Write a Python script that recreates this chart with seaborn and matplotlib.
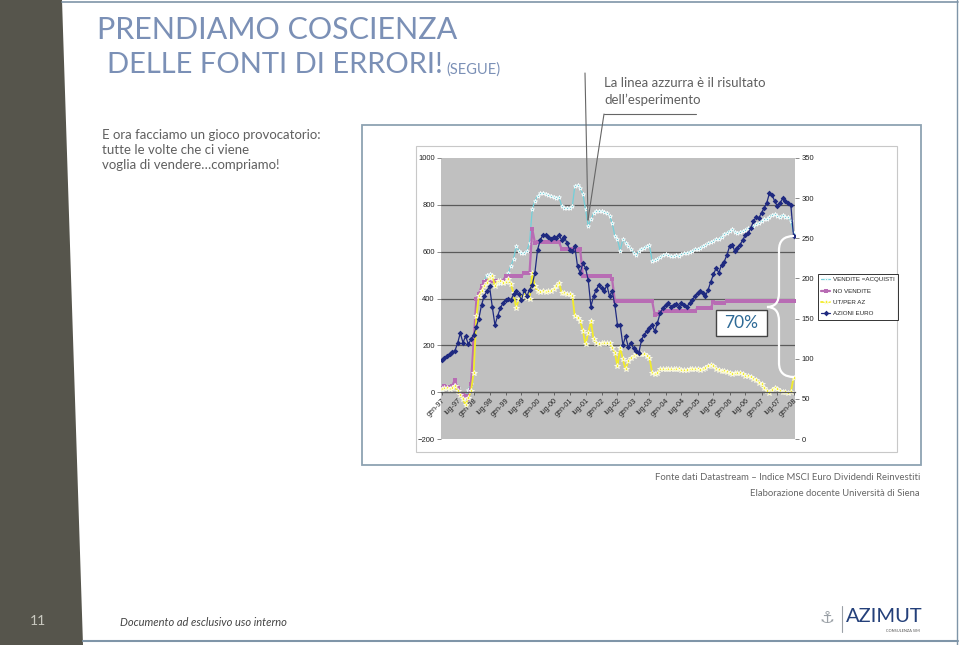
import numpy as np
import pandas as pd
import matplotlib
matplotlib.use('Agg')
import matplotlib.pyplot as plt
from matplotlib.path import Path
from matplotlib.patches import PathPatch, Polygon, Rectangle
import seaborn as sns

# --- DATA (monthly, gen-97 .. gen-08) ---
months = pd.date_range('1997-01-01', periods=133, freq='MS')

# left axis
vendite_acquisti = [
    11, 18, 18, 14, 23, 33, 18, -3, -17, -24, 11, 33,
    83, 396, 418, 446, 475, 499, 503, 489, 468, 465, 468, 475,
    496, 510, 539, 567, 624, 603, 596, 596, 603, 639, 781, 817,
    838, 850, 850, 845, 841, 838, 835, 831, 835, 795, 788, 788,
    788, 795, 881, 884, 874, 845, 781, 710, 738, 764, 774, 774,
    774, 770, 764, 753, 724, 667, 653, 603, 653, 639, 624, 610,
    596, 584, 603, 610, 617, 624, 627, 560, 565, 570, 579, 584,
    589, 586, 582, 582, 584, 582, 589, 593, 596, 599, 603, 610,
    613, 617, 624, 627, 636, 642, 646, 653, 656, 664, 674, 681,
    689, 696, 684, 679, 684, 689, 693, 699, 703, 710, 717, 724,
    731, 738, 741, 750, 756, 760, 753, 750, 756, 750, 746, 731,
    681,
]
no_vendite = [
    18, 26, 23, 23, 26, 54, 18, -6, -10, -17, -28, 33,
    211, 396, 418, 453, 470, 475, 475, 474, 475, 475, 476, 475,
    496, 496, 497, 496, 496, 495, 496, 510, 511, 510, 696, 639,
    642, 641, 642, 642, 641, 642, 643, 642, 642, 612, 610, 610,
    611, 610, 610, 609, 610, 496, 496, 495, 496, 496, 497, 496,
    496, 496, 495, 496, 482, 389, 389, 390, 389, 389, 388, 389,
    389, 390, 389, 389, 388, 389, 389, 389, 328, 332, 342, 346,
    346, 347, 346, 345, 346, 346, 347, 346, 346, 345, 346, 346,
    361, 360, 361, 361, 360, 361, 385, 379, 379, 380, 379, 389,
    389, 390, 389, 389, 388, 389, 389, 390, 389, 389, 389, 388,
    389, 389, 390, 389, 389, 388, 389, 389, 390, 389, 389, 389,
    389,
]
ut_per_az = [
    14, 18, 18, 14, 18, 26, 4, -10, -31, -53, -24, 4,
    83, 325, 411, 432, 453, 468, 489, 496, 453, 475, 475, 468,
    470, 482, 460, 425, 361, 396, 411, 418, 403, 396, 510, 453,
    432, 428, 432, 428, 432, 432, 439, 453, 468, 425, 422, 418,
    418, 411, 325, 318, 304, 261, 204, 254, 304, 225, 211, 204,
    208, 211, 208, 211, 190, 168, 111, 190, 140, 97, 133, 147,
    154, 161, 161, 165, 161, 154, 147, 83, 76, 83, 97, 100,
    100, 100, 97, 97, 97, 97, 94, 94, 94, 97, 97, 100,
    97, 94, 97, 104, 111, 114, 111, 100, 94, 90, 90, 86,
    80, 76, 80, 83, 83, 76, 71, 68, 66, 57, 54, 40,
    33, 19, 4, -3, 11, 19, 14, 4, 0, 0, -3, 0,
    61,
]
# right axis
azioni_euro = [
    98, 101, 104, 106, 108, 110, 119, 132, 120, 128, 118, 124,
    130, 140, 150, 167, 178, 184, 190, 165, 142, 153, 163, 169,
    173, 174, 173, 180, 184, 180, 173, 186, 178, 186, 192, 207,
    236, 248, 254, 254, 251, 249, 251, 250, 254, 248, 252, 244,
    236, 234, 240, 215, 207, 219, 213, 198, 165, 178, 186, 192,
    188, 184, 192, 178, 184, 167, 142, 142, 117, 128, 115, 119,
    113, 110, 107, 123, 130, 134, 138, 142, 134, 145, 157, 163,
    167, 169, 165, 167, 168, 165, 169, 167, 165, 169, 173, 178,
    182, 184, 182, 178, 186, 196, 205, 213, 207, 217, 221, 229,
    240, 242, 234, 238, 242, 248, 254, 256, 263, 271, 277, 275,
    282, 288, 294, 306, 304, 296, 290, 294, 300, 296, 294, 292,
    253,
]

series_names = ['VENDITE =ACQUISTI', 'NO VENDITE', 'UT/PER AZ', 'AZIONI EURO']
tick_dates = pd.date_range('1997-01-01', '2008-01-01', freq='6MS')
tick_labels = ['gen-97', 'lug-97', 'gen-98', 'lug-98', 'gen-99', 'lug-99',
               'gen-00', 'lug-00', 'gen-01', 'lug-01', 'gen-02', 'lug-02',
               'gen-03', 'lug-03', 'gen-04', 'lug-04', 'gen-05', 'lug-05',
               'gen-06', 'lug-06', 'gen-07', 'lug-07', 'gen-08']
left_ticks = [-200, 0, 200, 400, 600, 800, 1000]
right_ticks = [0, 50, 100, 150, 200, 250, 300, 350]

sns.set_style('white')
plt.rcParams['font.family'] = ['Lato', 'DejaVu Sans']

W, H = 960, 645
fig = plt.figure(figsize=(9.6, 6.45), dpi=100)

# --- slide background (pixel coords) ---
bg = fig.add_axes([0, 0, 1, 1], zorder=0)
bg.set_xlim(0, W)
bg.set_ylim(H, 0)
bg.axis('off')
bg.add_patch(Polygon([(0, 0), (62, 0), (83, H), (0, H)], closed=True,
                     facecolor='#56554c', edgecolor='none'))
bg.plot([62, 958], [1.5, 1.5], color='#7f95a8', lw=1.2)
bg.plot([957, 957], [0, H], color='#7f95a8', lw=1.0)
bg.plot([83, 958], [641, 641], color='#7f95a8', lw=1.5)
bg.add_patch(Rectangle((362, 125), 559, 340, facecolor='white',
                       edgecolor='#8ea2b2', lw=1.3))
bg.add_patch(Rectangle((416, 146), 481, 306, facecolor='white',
                       edgecolor='#c8c8c8', lw=0.8))

title_col = '#7b90b6'
bg.text(97, 30, 'PRENDIAMO COSCIENZA', fontsize=22, color=title_col,
        va='center', ha='left')
bg.text(107, 65, 'DELLE FONTI DI ERRORI!', fontsize=21, color=title_col,
        va='center', ha='left')
bg.text(446, 70, '(SEGUE)', fontsize=10.5, color=title_col, va='center', ha='left')

body = ['E ora facciamo un gioco provocatorio:', 'tutte le volte che ci viene',
        'voglia di vendere\u2026compriamo!']
for i, line in enumerate(body):
    bg.text(102, 135 + i * 15, line, fontsize=9.5, color='#606060', va='center')

bg.text(604, 83, 'La linea azzurra è il risultato', fontsize=9.5, color='#606060', va='center')
bg.text(604, 100, 'dell\u2019esperimento', fontsize=9.5, color='#606060', va='center')

bg.text(920, 477, 'Fonte dati Datastream \u2013 Indice MSCI Euro Dividendi Reinvestiti',
        fontsize=6.8, color='#666666', ha='right', va='center')
bg.text(920, 493, 'Elaborazione docente Università di Siena',
        fontsize=6.8, color='#666666', ha='right', va='center')

bg.text(38, 621, '11', fontsize=10, color='#c9c9c0', ha='center', va='center')
bg.text(120, 622, 'Documento ad esclusivo uso interno', fontsize=8, color='#444444',
        style='italic', va='center')
bg.text(827, 618, '\u2693', fontsize=12, color='#9aa0a6', ha='center', va='center',
        family=['DejaVu Sans'])
bg.plot([842, 842], [606, 632], color='#9aa0a6', lw=0.8)
bg.text(846, 617, 'AZIMUT', fontsize=14.5, color='#24407a', ha='left', va='center')
bg.text(920, 631, 'CONSULENZA SIM', fontsize=2.8, color='#555555', ha='right', va='center')

# --- chart ---
ax = fig.add_axes([441 / W, 1 - 439 / H, 354 / W, 281 / H], zorder=2)
ax.set_facecolor('#c0c0c0')
ax2 = ax.twinx()

sns.lineplot(x=months, y=vendite_acquisti, ax=ax, color='#72d0da', marker='*',
             markersize=3.2, label=series_names[0], legend=False,
             linewidth=0.9, markeredgewidth=0.5)
sns.lineplot(x=months, y=no_vendite, ax=ax, color='#b86cb4', marker='s',
             markersize=2.4, label=series_names[1], legend=False,
             linewidth=1.6, markeredgewidth=0)
sns.lineplot(x=months, y=ut_per_az, ax=ax, color='#f2ec2a', marker='*',
             markersize=4.2, label=series_names[2], legend=False,
             linewidth=1.3, markeredgewidth=0.5)
sns.lineplot(x=months, y=azioni_euro, ax=ax2, color='#1f2a80', marker='D',
             markersize=2.9, label=series_names[3], legend=False,
             linewidth=0.9, markeredgewidth=0)

ax.set_xlim(pd.Timestamp('1996-12-24'), pd.Timestamp('2008-01-18'))
ax.set_ylim(-200, 1000)
ax2.set_ylim(0, 350)
ax.set_yticks(left_ticks)
ax2.set_yticks(right_ticks)
ax.set_xticks(tick_dates)

ax.yaxis.grid(True, color='#5a5a5a', lw=0.9)
gl = ax.get_ygridlines()
gl[0].set_visible(False)
gl[-1].set_visible(False)
ax.set_axisbelow(True)

for s in ['top', 'left', 'right']:
    ax.spines[s].set_visible(False)
    ax2.spines[s].set_visible(False)
ax2.spines['bottom'].set_visible(False)
ax.spines['bottom'].set_position(('data', 0))
ax.spines['bottom'].set_color('#5a5a5a')
ax.spines['bottom'].set_linewidth(0.9)

tick_font = dict(labelsize=5.5, labelcolor='#222222', color='#777777',
                 length=3, width=0.6)
ax.tick_params(axis='y', pad=1.5, **tick_font)
ax2.tick_params(axis='y', pad=1.5, **tick_font)
ax.tick_params(axis='x', direction='out', pad=1, labelsize=5.2, labelcolor='#222222',
               color='#555555', length=2.5, width=0.6, bottom=True)
ax.set_xlabel('')
ax.set_ylabel('')
ax2.set_ylabel('')

handles = ax.get_lines()[:3] + ax2.get_lines()[:1]
leg = fig.legend(handles=handles, labels=series_names, loc='upper left',
                 bbox_to_anchor=(818 / W, 1 - 274 / H), fontsize=4.5,
                 frameon=True, fancybox=False, edgecolor='black',
                 handlelength=1.4, borderpad=0.5, labelspacing=0.95,
                 handletextpad=0.5, borderaxespad=0)
leg.get_frame().set_linewidth(0.7)
for t in leg.get_texts():
    t.set_family(['Liberation Sans', 'DejaVu Sans'])

# --- overlay annotations ---
fg = fig.add_axes([0, 0, 1, 1], zorder=5)
fg.set_xlim(0, W)
fg.set_ylim(H, 0)
fg.axis('off')
fg.patch.set_visible(False)
fg.plot([585, 588], [73, 220], color='#666666', lw=0.8)
fg.plot([604, 588], [114, 220], color='#666666', lw=0.8)
fg.plot([604, 696], [114, 114], color='#666666', lw=0.8)

fg.add_patch(Rectangle((716, 310), 51, 26, facecolor='white', edgecolor='#444444', lw=1))
fg.text(741.5, 323.5, '70%', fontsize=12.5, color='#2e6a96', ha='center', va='center')

verts = [(794, 236), (779, 236), (779, 250), (779, 293), (779, 307), (767, 307),
         (779, 307), (779, 321), (779, 363), (779, 377), (794, 377)]
codes = [Path.MOVETO, Path.CURVE3, Path.CURVE3, Path.LINETO, Path.CURVE3, Path.CURVE3,
         Path.CURVE3, Path.CURVE3, Path.LINETO, Path.CURVE3, Path.CURVE3]
fg.add_patch(PathPatch(Path(verts, codes), facecolor='none', edgecolor='white', lw=1.6))

# tick labels last so the rotation sticks
ax.set_xticklabels(tick_labels, rotation=45, ha='right', rotation_mode='anchor')
for lbl in ax.get_yticklabels() + ax2.get_yticklabels() + ax.get_xticklabels():
    lbl.set_family(['Liberation Sans', 'DejaVu Sans'])

fig.savefig('out.png', dpi=100)
